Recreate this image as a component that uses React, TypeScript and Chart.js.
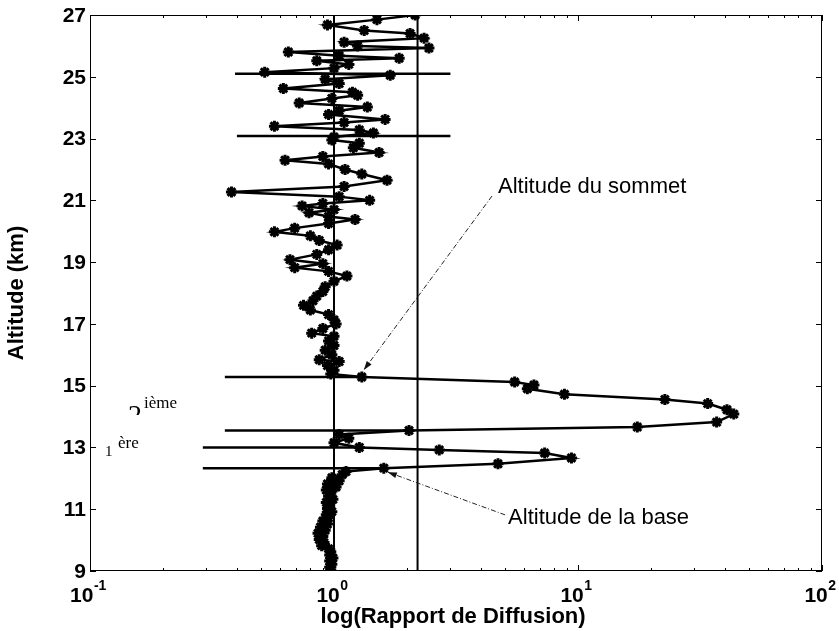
import React, { useEffect, useRef } from "react";
import { Chart, registerables } from "chart.js";

Chart.register(...registerables);

// ---- Data ----
const profileAltitude = [
  27.0, 26.85, 26.68, 26.5, 26.4, 26.25, 26.12, 26.0, 25.93, 25.8, 25.68, 25.6, 25.52, 25.4, 25.28,
  25.15, 25.05, 24.92, 24.78, 24.62, 24.5, 24.4, 24.3, 24.15, 24.02, 23.9, 23.78, 23.62, 23.52, 23.4,
  23.28, 23.18, 23.05, 22.95, 22.85, 22.7, 22.55, 22.42, 22.3, 22.18, 22.0, 21.85, 21.65, 21.45, 21.27,
  21.12, 21.0, 20.9, 20.82, 20.7, 20.6, 20.48, 20.38, 20.25, 20.1, 19.98, 19.85, 19.7, 19.55, 19.4,
  19.25, 19.08, 18.95, 18.82, 18.7, 18.55, 18.38, 18.2, 18.05, 17.9, 17.75, 17.6, 17.45, 17.3, 17.13,
  17.0, 16.85, 16.7, 16.6, 16.45, 16.3, 16.15, 16.0, 15.84, 15.78, 15.65, 15.5, 15.38, 15.28,
  15.12, 15.02, 14.9, 14.72, 14.55, 14.42, 14.22, 14.08, 13.82, 13.66, 13.55, 13.42, 13.3, 13.15,
  13.0, 12.92, 12.82, 12.66, 12.47, 12.33,
  12.22, 12.12, 12.02, 11.92, 11.82, 11.72, 11.62, 11.52, 11.42, 11.32, 11.22, 11.12, 11.02, 10.92,
  10.82, 10.72, 10.62, 10.52, 10.42, 10.32, 10.22, 10.12, 10.02, 9.92, 9.82, 9.72, 9.62, 9.52, 9.42,
  9.32, 9.22, 9.12, 9.03,
];
const profileRatio = [
  2.15, 1.5, 0.94, 1.33, 2.05, 2.34, 1.1, 1.25, 2.45, 0.65, 1.05, 1.85, 0.85, 1.15, 1.0,
  0.52, 1.7, 0.92, 1.05, 0.62, 1.19, 1.25, 0.98, 0.72, 1.37, 1.05, 0.95, 1.62, 1.1, 0.57,
  1.27, 1.45, 1.0, 0.98, 1.27, 1.2, 1.53, 0.9, 0.63, 0.95, 1.11, 1.3, 1.65, 1.1, 0.38,
  1.05, 1.4, 0.9, 0.74, 1.0, 0.79, 0.95, 1.22, 0.95, 0.69, 0.57, 0.8, 0.87, 1.03, 0.95,
  0.85, 0.66, 0.9, 0.69, 0.95, 1.13, 1.0, 0.92, 0.9, 0.85, 0.82, 0.75, 0.8, 0.95, 1.0,
  1.02, 0.9, 0.81, 1.0, 0.95, 1.0, 0.92, 0.98, 0.87, 1.05, 0.94, 1.0, 0.97, 1.3,
  5.5, 6.6, 6.2, 8.8, 22.7, 34, 40.8, 43.5, 37, 17.5, 2.03, 1.05, 1.15, 1.0,
  1.27, 2.7, 7.3, 9.4, 4.7, 1.6,
  1.12, 1.08, 0.98, 1.05, 0.94, 1.02, 0.93, 0.97, 0.95, 0.99, 0.93, 0.96, 0.94, 0.98,
  0.93, 0.95, 0.9, 0.94, 0.88, 0.92, 0.86, 0.9, 0.87, 0.91, 0.89, 0.95, 0.97, 0.96, 0.99,
  0.96, 0.98, 0.96, 0.97,
];

// vertical reference lines (x values)
const verticalLineValues = [1, 2.2];

// horizontal marker lines
const markerLineAltitude = [25.1, 23.08, 15.28, 13.55, 13.0, 12.33];
const markerLineStart = [0.393, 0.4, 0.357, 0.357, 0.29, 0.29];
const markerLineEnd = [3.0, 3.0, 1.3, 2.03, 1.27, 1.6];

// axes
const xMin = 0.1;
const xMax = 100;
const yMin = 9;
const yMax = 27;
const xTickValues = [0.1, 1, 10, 100];
const xTickExponents = ["-1", "0", "1", "2"];
const yTickValues = [9, 11, 13, 15, 17, 19, 21, 23, 25, 27];
const xTitle = "log(Rapport de Diffusion)";
const yTitle = "Altitude (km)";

// annotations
const topLabel = "Altitude du sommet";
const topLabelAt = { x: 4.7, y: 21.43 };
const topArrowTarget = { x: 1.3, y: 15.28 };
const baseLabel = "Altitude de la base";
const baseLabelAt = { x: 5.17, y: 10.72 };
const baseArrowTarget = { x: 1.6, y: 12.33 };
const layer2Num = "2";
const layer2Sup = "ième";
const layer1Num = "1";
const layer1Sup = "ère";

const SANS = '"Liberation Sans", Arial, Helvetica, sans-serif';
const SERIF = '"Liberation Serif", "Times New Roman", serif';

function drawArrow(ctx: CanvasRenderingContext2D, x0: number, y0: number, x1: number, y1: number) {
  ctx.save();
  ctx.strokeStyle = "#222";
  ctx.fillStyle = "#111";
  ctx.lineWidth = 1;
  ctx.setLineDash([5, 2, 1, 2]);
  ctx.beginPath();
  ctx.moveTo(x0, y0);
  ctx.lineTo(x1, y1);
  ctx.stroke();
  ctx.setLineDash([]);
  const ang = Math.atan2(y1 - y0, x1 - x0);
  const len = 9;
  const half = 3;
  const bx = x1 - len * Math.cos(ang);
  const by = y1 - len * Math.sin(ang);
  ctx.beginPath();
  ctx.moveTo(x1, y1);
  ctx.lineTo(bx + half * Math.sin(ang), by - half * Math.cos(ang));
  ctx.lineTo(bx - half * Math.sin(ang), by + half * Math.cos(ang));
  ctx.closePath();
  ctx.fill();
  ctx.restore();
}

const matlabAxes = {
  id: "matlabAxes",
  afterDraw(chart: any) {
    const { ctx, chartArea: a, scales } = chart;
    const xs = scales.x;
    const ys = scales.y;
    ctx.save();
    ctx.strokeStyle = "#000";
    ctx.lineWidth = 1;
    ctx.strokeRect(a.left + 0.5, a.top + 0.5, a.right - a.left - 1, a.bottom - a.top - 1);

    // y ticks (inward, both sides)
    ctx.beginPath();
    for (const v of yTickValues) {
      const py = Math.round(ys.getPixelForValue(v)) + 0.5;
      ctx.moveTo(a.left, py);
      ctx.lineTo(a.left + 6, py);
      ctx.moveTo(a.right, py);
      ctx.lineTo(a.right - 6, py);
    }
    // x major + minor ticks
    for (let d = -1; d <= 2; d++) {
      for (let m = 1; m <= 9; m++) {
        const v = m * Math.pow(10, d);
        if (v < xMin - 1e-9 || v > xMax + 1e-9) continue;
        const px = Math.round(xs.getPixelForValue(v)) + 0.5;
        const l = m === 1 ? 6 : 3;
        ctx.moveTo(px, a.bottom);
        ctx.lineTo(px, a.bottom - l);
        ctx.moveTo(px, a.top);
        ctx.lineTo(px, a.top + l);
      }
    }
    ctx.stroke();

    // y tick labels
    ctx.fillStyle = "#000";
    ctx.font = `bold 21px ${SANS}`;
    ctx.textAlign = "right";
    ctx.textBaseline = "middle";
    for (const v of yTickValues) {
      ctx.fillText(String(v), a.left - 4, ys.getPixelForValue(v) + 1);
    }

    // x tick labels with superscript exponent
    ctx.textBaseline = "alphabetic";
    ctx.textAlign = "left";
    xTickValues.forEach((v, i) => {
      const px = xs.getPixelForValue(v);
      ctx.font = `bold 21px ${SANS}`;
      const wb = ctx.measureText("10").width;
      ctx.font = `bold 14px ${SANS}`;
      const we = ctx.measureText(xTickExponents[i]).width;
      const x0 = px - (wb + we) / 2 - 2;
      ctx.font = `bold 21px ${SANS}`;
      ctx.fillText("10", x0, a.bottom + 31);
      ctx.font = `bold 14px ${SANS}`;
      ctx.fillText(xTickExponents[i], x0 + wb + 0.5, a.bottom + 19);
    });

    // axis titles
    ctx.font = `bold 22px ${SANS}`;
    ctx.textAlign = "center";
    ctx.fillText(xTitle, (a.left + a.right) / 2 - 3, a.bottom + 52);
    ctx.save();
    ctx.translate(23, (a.top + a.bottom) / 2);
    ctx.rotate(-Math.PI / 2);
    ctx.fillText(yTitle, 0, 0);
    ctx.restore();

    // annotations
    ctx.font = `22px ${SANS}`;
    ctx.textAlign = "left";
    ctx.textBaseline = "middle";
    const tX = xs.getPixelForValue(topLabelAt.x);
    const tY = ys.getPixelForValue(topLabelAt.y);
    ctx.fillText(topLabel, tX, tY);
    const bX = xs.getPixelForValue(baseLabelAt.x);
    const bY = ys.getPixelForValue(baseLabelAt.y);
    ctx.fillText(baseLabel, bX, bY);
    drawArrow(
      ctx,
      tX - 6,
      tY + 9,
      xs.getPixelForValue(topArrowTarget.x) + 2,
      ys.getPixelForValue(topArrowTarget.y) - 7
    );
    drawArrow(
      ctx,
      bX - 3,
      bY - 3,
      xs.getPixelForValue(baseArrowTarget.x) + 4,
      ys.getPixelForValue(baseArrowTarget.y) + 4
    );

    // layer labels (serif)
    ctx.textBaseline = "alphabetic";
    // "2ième" — numeral partly hidden as in the reference
    ctx.save();
    ctx.beginPath();
    ctx.rect(120, 380, 30, 35);
    ctx.clip();
    ctx.font = `28px ${SERIF}`;
    ctx.fillText(layer2Num, 128, 424);
    ctx.restore();
    ctx.font = `17px ${SERIF}`;
    ctx.fillText(layer2Sup, 144, 408);
    ctx.font = `15px ${SERIF}`;
    ctx.fillText(layer1Num, 105, 456);
    ctx.font = `17px ${SERIF}`;
    ctx.fillText(layer1Sup, 118, 448);

    ctx.restore();
  },
};

export default function App() {
  const canvasRef = useRef<HTMLCanvasElement | null>(null);

  useEffect(() => {
    const canvas = canvasRef.current;
    if (!canvas) return;

    const profile = profileAltitude.map((alt, i) => ({ x: profileRatio[i], y: alt }));
    const lineDefaults = {
      showLine: true,
      borderColor: "#000",
      pointRadius: 0,
      pointHoverRadius: 0,
      fill: false,
    };
    const verticals = verticalLineValues.map((v) => ({
      ...lineDefaults,
      borderWidth: 2,
      data: [
        { x: v, y: yMin },
        { x: v, y: yMax },
      ],
    }));
    const horizontals = markerLineAltitude.map((alt, i) => ({
      ...lineDefaults,
      borderWidth: 2.5,
      data: [
        { x: markerLineStart[i], y: alt },
        { x: markerLineEnd[i], y: alt },
      ],
    }));

    const chart = new Chart(canvas, {
      type: "scatter",
      data: {
        datasets: [
          {
            data: profile,
            showLine: true,
            borderColor: "#000",
            borderWidth: 2.5,
            pointStyle: "star",
            pointRadius: 5.5,
            pointBorderWidth: 3,
            pointBorderColor: "#000",
            pointBackgroundColor: "#000",
            fill: false,
          } as any,
          ...verticals,
          ...horizontals,
        ],
      },
      options: {
        responsive: false,
        animation: false,
        devicePixelRatio: 1,
        layout: { padding: { left: 90, top: 15, right: 17, bottom: 60 } },
        scales: {
          x: { type: "logarithmic", min: xMin, max: xMax, display: false },
          y: { type: "linear", min: yMin, max: yMax, display: false },
        },
        plugins: {
          legend: { display: false },
          tooltip: { enabled: false },
        },
        events: [],
      },
      plugins: [matlabAxes],
    });
    return () => chart.destroy();
  }, []);

  return (
    <div style={{ position: "fixed", left: 0, top: 0, width: 839, height: 631, background: "#fff" }}>
      <canvas ref={canvasRef} width={839} height={631} style={{ display: "block" }} />
    </div>
  );
}
